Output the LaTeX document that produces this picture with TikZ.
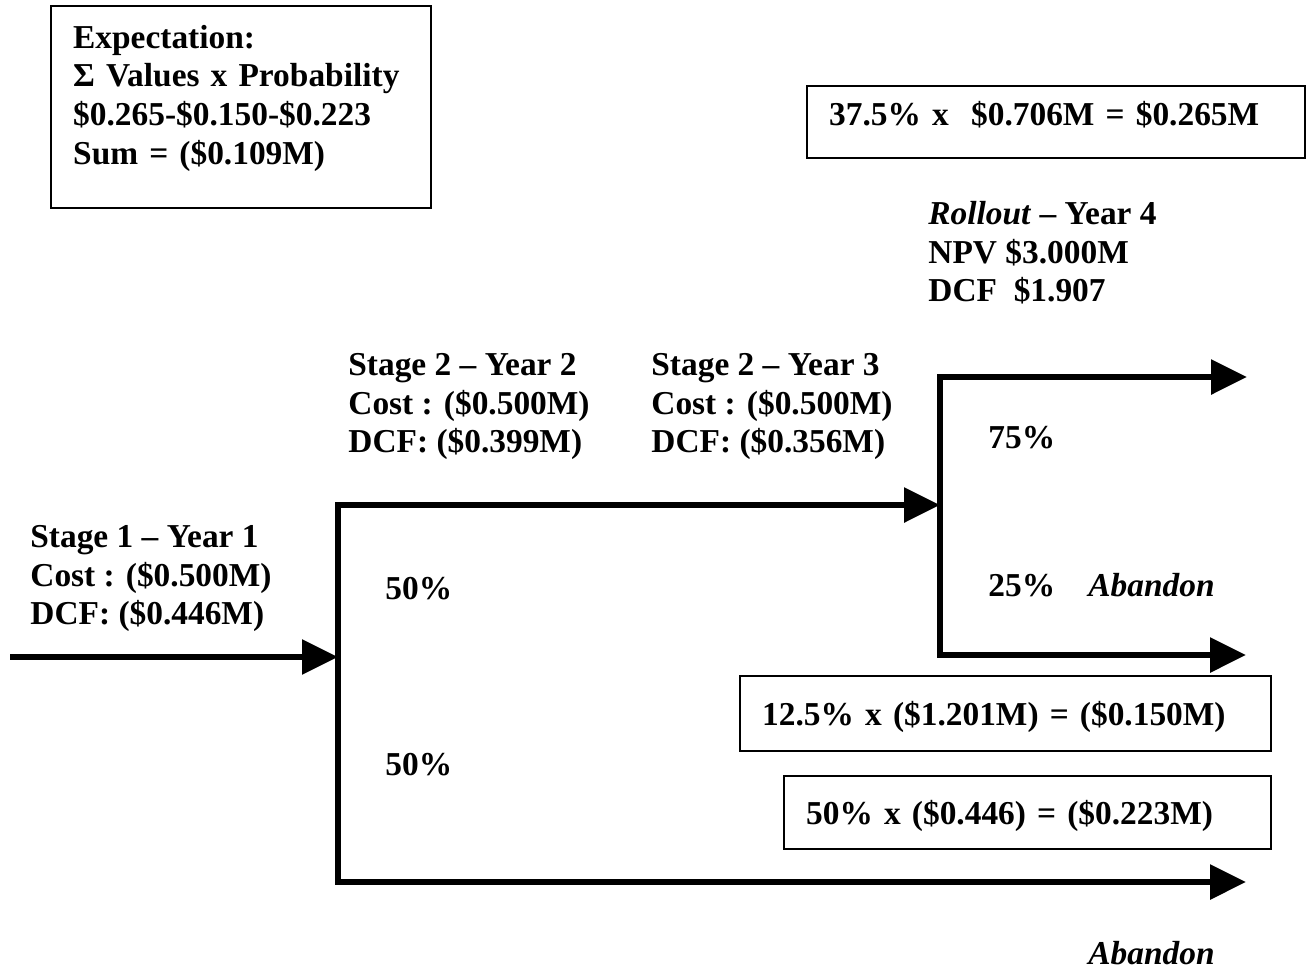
\documentclass[tikz,border=0pt]{standalone}
\usepackage{fontspec}
\setmainfont{Liberation Serif}
\usepackage{tikz}
\usetikzlibrary{arrows.meta, positioning}
\tikzstyle{branch} = [draw, line width=3pt, -{Triangle[length=18pt, width=17pt]}]
\tikzstyle{valuebox} = [draw, line width=1.2pt, anchor=north west, inner xsep=11pt,
    inner ysep=0pt, align=left, text height=11.3pt, text depth=0pt]
\tikzstyle{stagetext} = [anchor=north west, inner sep=0pt, align=left]
\tikzstyle{prob} = [anchor=base west, inner sep=0pt]

\begin{document}
\begin{tikzpicture}[x=0.5pt, y=-0.5pt, font=\fontsize{16.7}{19.3}\selectfont\bfseries]
    \useasboundingbox (0,0) rectangle (1306,976);
    % Tree points
    \coordinate (start) at (10,657);
    \coordinate (fork1) at (338,657);
    \coordinate (fork2) at (940,505);
    \coordinate (rollout) at (1247,377);
    \coordinate (quit2) at (1246,655);
    \coordinate (quit1) at (1246,882);

    % Nodes
    \node[draw, line width=1.2pt, anchor=north west, text width=168pt, inner xsep=11pt,
          minimum height=101pt, align=left, text depth=70.5pt] (expect) at (50,5)
          {Expectation:\\ Σ Values x Probability\\ \$0.265-\$0.150-\$0.223\\ Sum = (\$0.109M)};
    \node[valuebox, text width=227pt, minimum height=36pt, text depth=8pt] (gain) at (806,85)
          {37.5\% x \ \$0.706M = \$0.265M};
    \node[stagetext] (roll) at (928,201) {\textit{Rollout} -- Year 4\\ NPV \$3.000M\\ DCF \ \$1.907};
    \node[stagetext] (stage2) at (348,353) {Stage 2 -- Year 2\\ Cost : (\$0.500M)\\ DCF: (\$0.399M)};
    \node[stagetext] (stage3) at (651,353) {Stage 2 -- Year 3\\ Cost : (\$0.500M)\\ DCF: (\$0.356M)};
    \node[stagetext] (stage1) at (30,525) {Stage 1 -- Year 1\\ Cost : (\$0.500M)\\ DCF: (\$0.446M)};
    \node[prob] (p75) at (988,448) {75\%};
    \node[prob] (p25) at (988,596) {25\%};
    \node[prob] (quittext2) at (1088,596) {\textit{Abandon}};
    \node[prob] (p50a) at (385,599) {50\%};
    \node[prob] (p50b) at (385,775) {50\%};
    \node[valuebox, text width=243.5pt, minimum height=37.5pt] (loss) at (739,675)
          {12.5\% x (\$1.201M) = (\$0.150M)};
    \node[valuebox, text width=221.5pt, minimum height=36.5pt] (stop) at (783,775)
          {50\% x (\$0.446) = (\$0.223M)};
    \node[prob] (quittext1) at (1088,964) {\textit{Abandon}};

    % Edges
    \path[branch] (start) -- (fork1);
    \path[branch] (fork1) |- (fork2);
    \path[branch] (fork1) |- (quit1);
    \path[branch] (fork2) |- (rollout);
    \path[branch] (fork2) |- (quit2);
\end{tikzpicture}
\end{document}
